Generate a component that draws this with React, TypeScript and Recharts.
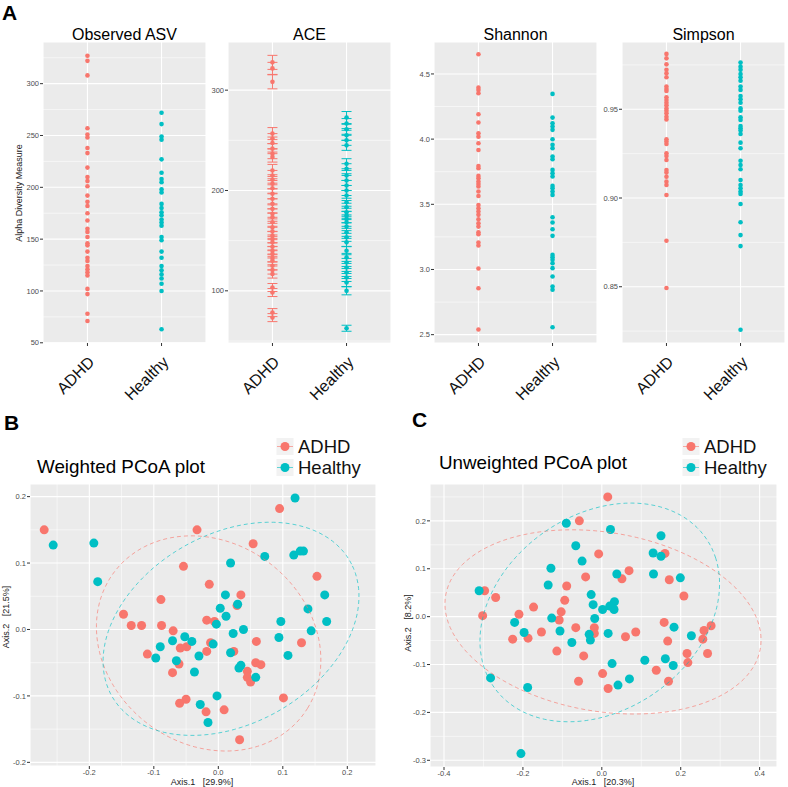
import React from 'react';
import { ScatterChart, Scatter, XAxis, YAxis, CartesianGrid, ReferenceLine, ErrorBar } from 'recharts';

const FONT = '"Liberation Sans", Arial, Helvetica, sans-serif';
const RED = '#F8766D';
const TEAL = '#00BFC4';

// ---------- categories ----------
const groups = ['ADHD', 'Healthy'];

// ---------- Panel A: alpha diversity ----------
const observedAdhd = [327, 322, 308, 257, 251, 248, 238, 233, 219, 210, 206, 201, 192, 186, 182, 175, 168, 160, 157, 152, 146, 144, 138, 132, 129, 124, 121, 118, 115, 102, 97, 78, 71];
const observedHealthy = [272, 261, 249, 246, 227, 214, 208, 205, 198, 195, 184, 180, 176, 173, 169, 166, 163, 152, 149, 138, 132, 124, 120, 116, 112, 107, 100, 63];

const aceAdhd = [327.7, 321.7, 308.3, 256.7, 251.7, 247.3, 241.7, 236.7, 233.3, 220, 215, 210.7, 206.7, 202.3, 196.7, 191.7, 186.7, 181.7, 176.7, 173.3, 168.3, 163.3, 159.3, 155, 151.7, 148.3, 144, 140, 136.7, 132.7, 130, 125, 120.7, 116.7, 103.3, 98.3, 78.3, 73.3];
const aceAdhdSe = [7, 6, 7, 6, 5, 6, 5, 5, 5, 6, 5, 5, 5, 5, 5, 5, 5, 4, 5, 4, 5, 4, 5, 4, 4, 4, 4, 4, 4, 4, 4, 4, 4, 4, 4, 4, 4, 4];
const aceHealthy = [272.7, 266.7, 261, 255, 250, 245, 226.7, 221.7, 215, 210, 205, 200, 195, 188.3, 183.3, 178.3, 175, 171.7, 168.3, 164, 158.3, 153.3, 148.3, 140, 133.3, 128.3, 123.3, 118.3, 113.3, 108.3, 100, 62.7];
const aceHealthySe = [6, 5, 5, 5, 5, 5, 5, 5, 5, 5, 5, 5, 5, 4, 4, 4, 4, 4, 4, 4, 4, 4, 4, 4, 4, 4, 4, 4, 4, 4, 4, 3];

const shannonAdhd = [4.651, 4.395, 4.377, 4.352, 4.191, 4.127, 4.045, 4.019, 3.968, 3.917, 3.794, 3.777, 3.718, 3.7, 3.674, 3.656, 3.636, 3.598, 3.564, 3.495, 3.47, 3.444, 3.419, 3.385, 3.355, 3.329, 3.286, 3.27, 3.207, 3.184, 3.007, 2.856, 2.539];
const shannonHealthy = [4.347, 4.165, 4.122, 4.096, 4.071, 3.999, 3.956, 3.93, 3.866, 3.846, 3.764, 3.738, 3.713, 3.641, 3.623, 3.598, 3.572, 3.401, 3.36, 3.309, 3.258, 3.112, 3.094, 3.074, 3.048, 3.01, 2.946, 2.869, 2.844, 2.557];

const simpsonAdhd = [0.9812, 0.9787, 0.9753, 0.9722, 0.9703, 0.968, 0.9628, 0.9614, 0.9603, 0.9567, 0.9552, 0.9537, 0.9522, 0.9505, 0.9492, 0.9477, 0.9458, 0.9443, 0.9331, 0.9318, 0.9304, 0.9252, 0.9237, 0.9214, 0.9158, 0.9143, 0.912, 0.9092, 0.9073, 0.9017, 0.8759, 0.8493];
const simpsonHealthy = [0.9763, 0.974, 0.9722, 0.9699, 0.968, 0.9661, 0.9628, 0.9609, 0.9575, 0.9556, 0.9537, 0.9505, 0.9492, 0.9455, 0.944, 0.9406, 0.9393, 0.938, 0.9361, 0.9312, 0.928, 0.921, 0.9186, 0.9162, 0.9101, 0.9073, 0.9055, 0.9036, 0.9023, 0.8966, 0.8863, 0.8791, 0.8729, 0.8258];

const observedTicks = [50, 100, 150, 200, 250, 300];
const observedMinor = [75, 125, 175, 225, 275, 325];
const aceTicks = [100, 200, 300];
const aceMinor = [50, 150, 250];
const shannonTicks = [2.5, 3.0, 3.5, 4.0, 4.5];
const shannonMinor = [2.75, 3.25, 3.75, 4.25];
const simpsonTicks = [0.85, 0.9, 0.95];
const simpsonMinor = [0.825, 0.875, 0.925, 0.975];

// ---------- Panel B: weighted PCoA ----------
const weightedAdhd = [[-0.270, 0.150], [-0.033, 0.150], [0.095, 0.182], [0.054, 0.129], [-0.054, 0.095], [-0.014, 0.068], [0.153, 0.080], [-0.089, 0.045], [0.035, 0.052], [0.029, 0.036], [-0.147, 0.023], [-0.135, 0.006], [-0.119, 0.006], [-0.088, 0.006], [-0.018, 0.014], [-0.006, 0.012], [-0.070, -0.002], [-0.012, -0.020], [-0.059, -0.028], [-0.049, -0.026], [-0.018, -0.033], [0.024, -0.033], [0.059, -0.018], [0.129, -0.020], [-0.110, -0.037], [-0.061, -0.052], [-0.071, -0.065], [0.058, -0.050], [0.066, -0.053], [0.045, -0.063], [0.045, -0.072], [0.050, -0.079], [0.101, -0.103], [-0.050, -0.105], [-0.060, -0.111], [-0.019, -0.124], [0.009, -0.121], [0.033, -0.166]];
const weightedHealthy = [[-0.256, 0.127], [-0.193, 0.130], [-0.187, 0.072], [0.119, 0.198], [0.019, 0.100], [0.072, 0.110], [0.117, 0.112], [0.127, 0.118], [0.132, 0.118], [0.011, 0.052], [0.030, 0.038], [0.003, 0.032], [0.012, 0.020], [-0.003, 0.008], [0.165, 0.052], [0.139, 0.031], [0.168, 0.012], [0.097, 0.012], [0.144, -0.002], [0.039, 0.000], [0.023, -0.006], [-0.052, -0.011], [-0.071, -0.017], [-0.041, -0.018], [-0.008, -0.022], [0.094, -0.012], [-0.090, -0.026], [-0.097, -0.043], [-0.065, -0.047], [-0.030, -0.040], [0.019, -0.035], [0.035, -0.054], [0.032, -0.058], [0.108, -0.039], [0.058, -0.072], [-0.037, -0.064], [-0.002, -0.100], [-0.028, -0.113], [-0.016, -0.140]];
const weightedXTicks = [-0.2, -0.1, 0.0, 0.1, 0.2];
const weightedXMinor = [-0.25, -0.15, -0.05, 0.05, 0.15];
const weightedYTicks = [-0.2, -0.1, 0.0, 0.1, 0.2];
const weightedYMinor = [-0.15, -0.05, 0.05, 0.15];
// ellipse: centre, semi-axes, rotation (radians, data space)
const weightedEllipseAdhd = { cx: -0.015, cy: -0.021, a: 0.1818, b: 0.1532, th: -0.567 };
const weightedEllipseHealthy = { cx: 0.0197, cy: 0.001, a: 0.2108, b: 0.1438, th: 0.48 };

// ---------- Panel C: unweighted PCoA ----------
const unweightedAdhd = [[0.015, 0.250], [-0.057, 0.200], [-0.008, 0.131], [0.160, 0.132], [-0.041, 0.083], [0.069, 0.096], [0.051, 0.079], [0.171, 0.077], [-0.089, 0.064], [-0.297, 0.054], [-0.269, 0.040], [-0.094, 0.034], [0.208, 0.043], [-0.173, 0.020], [-0.103, 0.010], [-0.210, 0.005], [-0.302, 0.002], [-0.108, -0.007], [0.158, -0.012], [-0.066, -0.023], [-0.019, -0.023], [0.277, -0.019], [-0.019, -0.035], [-0.153, -0.032], [0.086, -0.032], [0.259, -0.029], [0.060, -0.042], [-0.226, -0.047], [-0.187, -0.045], [0.256, -0.047], [0.167, -0.051], [-0.114, -0.072], [0.216, -0.077], [0.268, -0.077], [-0.046, -0.082], [0.218, -0.096], [0.138, -0.112], [0.002, -0.119], [-0.059, -0.135], [0.169, -0.135], [0.016, -0.150]];
const unweightedHealthy = [[-0.090, 0.195], [0.022, 0.182], [0.150, 0.169], [-0.066, 0.148], [0.130, 0.133], [0.150, 0.126], [-0.050, 0.116], [-0.129, 0.101], [0.038, 0.089], [0.131, 0.089], [0.199, 0.081], [-0.136, 0.066], [-0.311, 0.054], [-0.027, 0.046], [-0.022, 0.025], [0.032, 0.031], [0.020, 0.022], [0.031, 0.015], [0.002, 0.015], [-0.127, -0.003], [-0.018, -0.004], [-0.221, -0.012], [0.183, -0.022], [-0.197, -0.033], [-0.106, -0.030], [-0.032, -0.037], [0.016, -0.035], [0.227, -0.040], [-0.029, -0.049], [-0.076, -0.054], [0.161, -0.088], [0.109, -0.091], [0.026, -0.098], [0.181, -0.102], [-0.282, -0.128], [0.070, -0.130], [0.041, -0.143], [-0.188, -0.148], [-0.205, -0.286]];
const unweightedXTicks = [-0.4, -0.2, 0.0, 0.2, 0.4];
const unweightedXMinor = [-0.3, -0.1, 0.1, 0.3];
const unweightedYTicks = [-0.3, -0.2, -0.1, 0.0, 0.1, 0.2];
const unweightedYMinor = [-0.25, -0.15, -0.05, 0.05, 0.15, 0.25];
const unweightedEllipseAdhd = { cx: 0.003, cy: -0.011, a: 0.4029, b: 0.1876, th: -0.12 };
const unweightedEllipseHealthy = { cx: -0.0052, cy: 0.0088, a: 0.315, b: 0.2125, th: 0.368 };

// ---------- helpers ----------
type Ell = { cx: number; cy: number; a: number; b: number; th: number };
const ellipsePath = (e: Ell) => {
  const pts: { x: number; y: number }[] = [];
  for (let i = 0; i <= 120; i++) {
    const t = (2 * Math.PI * i) / 120;
    pts.push({
      x: e.cx + e.a * Math.cos(e.th) * Math.cos(t) - e.b * Math.sin(e.th) * Math.sin(t),
      y: e.cy + e.a * Math.sin(e.th) * Math.cos(t) + e.b * Math.cos(e.th) * Math.sin(t),
    });
  }
  return pts;
};

const dot = (r: number) => (props: any) =>
  props.cx == null ? <g /> : <circle cx={props.cx} cy={props.cy} r={r} fill={props.fill} />;
const noShape = () => <g />;

const GroupTick = (props: any) => {
  const { x, y, payload } = props;
  return (
    <text
      transform={`translate(${x + 8},${y + 15}) rotate(-45)`}
      textAnchor="end"
      fontSize={16}
      fontFamily={FONT}
      fill="#111"
    >
      {groups[payload.value - 1]}
    </text>
  );
};

type AlphaProps = {
  left: number;
  yAxisW: number;
  plotW: number;
  adhd: number[];
  healthy: number[];
  adhdSe?: number[];
  healthySe?: number[];
  domain: [number, number];
  ticks: number[];
  minor: number[];
  fmt: (v: number) => string;
};

function AlphaPanel(p: AlphaProps) {
  const rowsA = p.adhd.map((v, i) => ({ x: 1, y: v, e: p.adhdSe ? p.adhdSe[i] : 0 }));
  const rowsH = p.healthy.map((v, i) => ({ x: 2, y: v, e: p.healthySe ? p.healthySe[i] : 0 }));
  return (
    <div style={{ position: 'absolute', left: p.left, top: 0 }}>
      <ScatterChart width={p.yAxisW + p.plotW} height={430} margin={{ top: 42, right: 0, bottom: 0, left: 0 }}>
        <CartesianGrid fill="#EBEBEB" stroke="#FFFFFF" strokeWidth={1.1} />
        {p.minor.map((v) => (
          <ReferenceLine key={'m' + v} y={v} stroke="#FFFFFF" strokeWidth={0.55} />
        ))}
        <XAxis
          type="number"
          dataKey="x"
          domain={[0.4, 2.6]}
          ticks={[1, 2]}
          allowDataOverflow
          axisLine={false}
          tickLine={{ stroke: '#333333' }}
          tickSize={3}
          height={87}
          interval={0}
          tick={<GroupTick />}
        />
        <YAxis
          type="number"
          dataKey="y"
          domain={p.domain}
          ticks={p.ticks}
          allowDataOverflow
          axisLine={false}
          tickLine={{ stroke: '#333333' }}
          tickSize={3}
          tickMargin={1}
          width={p.yAxisW}
          interval={0}
          tickFormatter={p.fmt}
          tick={{ fontSize: 7.5, fill: '#4D4D4D', fontFamily: FONT }}
        />
        <Scatter data={rowsA} fill={RED} shape={dot(2.3)} isAnimationActive={false}>
          {p.adhdSe ? <ErrorBar dataKey="e" direction="y" width={5} stroke={RED} strokeWidth={1} /> : null}
        </Scatter>
        <Scatter data={rowsH} fill={TEAL} shape={dot(2.3)} isAnimationActive={false}>
          {p.healthySe ? <ErrorBar dataKey="e" direction="y" width={5} stroke={TEAL} strokeWidth={1} /> : null}
        </Scatter>
      </ScatterChart>
    </div>
  );
}

type PcoaProps = {
  left: number;
  top: number;
  yAxisW: number;
  plotW: number;
  plotTop: number;
  plotH: number;
  xDomain: [number, number];
  yDomain: [number, number];
  xTicks: number[];
  yTicks: number[];
  xMinor: number[];
  yMinor: number[];
  adhd: number[][];
  healthy: number[][];
  ellA: Ell;
  ellH: Ell;
};

function PcoaPanel(p: PcoaProps) {
  const rowsA = p.adhd.map(([x, y]) => ({ x, y }));
  const rowsH = p.healthy.map(([x, y]) => ({ x, y }));
  const fmt = (v: number) => v.toFixed(1);
  return (
    <div style={{ position: 'absolute', left: p.left, top: p.top }}>
      <ScatterChart
        width={p.yAxisW + p.plotW}
        height={p.plotTop + p.plotH + 20}
        margin={{ top: p.plotTop, right: 0, bottom: 0, left: 0 }}
      >
        <CartesianGrid fill="#EBEBEB" stroke="#FFFFFF" strokeWidth={1.1} />
        {p.xMinor.map((v) => (
          <ReferenceLine key={'mx' + v} x={v} stroke="#FFFFFF" strokeWidth={0.55} />
        ))}
        {p.yMinor.map((v) => (
          <ReferenceLine key={'my' + v} y={v} stroke="#FFFFFF" strokeWidth={0.55} />
        ))}
        <XAxis
          type="number"
          dataKey="x"
          domain={p.xDomain}
          ticks={p.xTicks}
          allowDataOverflow
          axisLine={false}
          tickLine={{ stroke: '#333333' }}
          tickSize={3}
          tickMargin={1}
          height={20}
          interval={0}
          tickFormatter={fmt}
          tick={{ fontSize: 7.5, fill: '#4D4D4D', fontFamily: FONT }}
        />
        <YAxis
          type="number"
          dataKey="y"
          domain={p.yDomain}
          ticks={p.yTicks}
          allowDataOverflow
          axisLine={false}
          tickLine={{ stroke: '#333333' }}
          tickSize={3}
          tickMargin={1}
          width={p.yAxisW}
          interval={0}
          tickFormatter={fmt}
          tick={{ fontSize: 7.5, fill: '#4D4D4D', fontFamily: FONT }}
        />
        <Scatter data={rowsA} fill={RED} shape={dot(4.5)} isAnimationActive={false} />
        <Scatter data={rowsH} fill={TEAL} shape={dot(4.5)} isAnimationActive={false} />
        <Scatter
          data={ellipsePath(p.ellA)}
          fill={RED}
          shape={noShape}
          line={{ stroke: RED, strokeWidth: 0.9, strokeDasharray: '4 3', strokeOpacity: 0.7 }}
          lineType="joint"
          isAnimationActive={false}
        />
        <Scatter
          data={ellipsePath(p.ellH)}
          fill={TEAL}
          shape={noShape}
          line={{ stroke: TEAL, strokeWidth: 0.9, strokeDasharray: '4 3', strokeOpacity: 0.7 }}
          lineType="joint"
          isAnimationActive={false}
        />
      </ScatterChart>
    </div>
  );
}

function LegendBox({ x, y }: { x: number; y: number }) {
  const items = [
    { label: groups[0], color: RED, dy: 0 },
    { label: groups[1], color: TEAL, dy: 21 },
  ];
  return (
    <g>
      {items.map((it) => (
        <g key={it.label}>
          <rect x={x - 8.5} y={y + it.dy - 8.5} width={17} height={17} fill="#F2F2F2" />
          <line x1={x - 8} x2={x + 8} y1={y + it.dy} y2={y + it.dy} stroke={it.color} strokeOpacity={0.6} strokeWidth={1} />
          <circle cx={x} cy={y + it.dy} r={4.5} fill={it.color} />
          <text x={x + 13} y={y + it.dy + 6.5} fontSize={18.5} fontFamily={FONT} fill="#111">
            {it.label}
          </text>
        </g>
      ))}
    </g>
  );
}

export default function App() {
  return (
    <div style={{ position: 'absolute', left: 0, top: 0, width: 788, height: 787, background: '#fff', fontFamily: FONT }}>
      <AlphaPanel left={3} yAxisW={40} plotW={163} adhd={observedAdhd} healthy={observedHealthy}
        domain={[49.8, 340.2]} ticks={observedTicks} minor={observedMinor} fmt={(v) => String(v)} />
      <AlphaPanel left={206} yAxisW={22} plotW={163} adhd={aceAdhd} healthy={aceHealthy}
        adhdSe={aceAdhdSe} healthySe={aceHealthySe}
        domain={[48, 348]} ticks={aceTicks} minor={aceMinor} fmt={(v) => String(v)} />
      <AlphaPanel left={409} yAxisW={25} plotW={163} adhd={shannonAdhd} healthy={shannonHealthy}
        domain={[2.436, 4.745]} ticks={shannonTicks} minor={shannonMinor} fmt={(v) => v.toFixed(1)} />
      <AlphaPanel left={597} yAxisW={25} plotW={163} adhd={simpsonAdhd} healthy={simpsonHealthy}
        domain={[0.8183, 0.9879]} ticks={simpsonTicks} minor={simpsonMinor} fmt={(v) => v.toFixed(2)} />

      <PcoaPanel left={0} top={430} yAxisW={30} plotW={346} plotTop={54} plotH={282}
        xDomain={[-0.292, 0.2445]} yDomain={[-0.2055, 0.219]}
        xTicks={weightedXTicks} yTicks={weightedYTicks} xMinor={weightedXMinor} yMinor={weightedYMinor}
        adhd={weightedAdhd} healthy={weightedHealthy} ellA={weightedEllipseAdhd} ellH={weightedEllipseHealthy} />
      <PcoaPanel left={390} top={430} yAxisW={40} plotW={347} plotTop={54} plotH={283}
        xDomain={[-0.4355, 0.444]} yDomain={[-0.314, 0.277]}
        xTicks={unweightedXTicks} yTicks={unweightedYTicks} xMinor={unweightedXMinor} yMinor={unweightedYMinor}
        adhd={unweightedAdhd} healthy={unweightedHealthy} ellA={unweightedEllipseAdhd} ellH={unweightedEllipseHealthy} />

      <svg width={788} height={787} style={{ position: 'absolute', left: 0, top: 0, pointerEvents: 'none' }}>
        <g fontFamily={FONT}>
          <text x={2} y={20} fontSize={21} fontWeight="bold" fill="#000">A</text>
          <text x={124.5} y={39.5} fontSize={16} textAnchor="middle" fill="#000">Observed ASV</text>
          <text x={309.5} y={39.5} fontSize={16} textAnchor="middle" fill="#000">ACE</text>
          <text x={515.5} y={39.5} fontSize={16} textAnchor="middle" fill="#000">Shannon</text>
          <text x={703.5} y={39.5} fontSize={16} textAnchor="middle" fill="#000">Simpson</text>
          <text transform="translate(22,193) rotate(-90)" fontSize={9} textAnchor="middle" fill="#222">Alpha Diversity Measure</text>

          <text x={4} y={430} fontSize={21} fontWeight="bold" fill="#000">B</text>
          <text x={412} y={427} fontSize={21} fontWeight="bold" fill="#000">C</text>

          <text x={37} y={473} fontSize={19} fill="#000" textLength={168} lengthAdjust="spacingAndGlyphs">Weighted PCoA plot</text>
          <text x={439} y={469} fontSize={19} fill="#000" textLength={188} lengthAdjust="spacingAndGlyphs">Unweighted PCoA plot</text>

          <LegendBox x={285} y={446.5} />
          <LegendBox x={691} y={446.5} />

          <text x={202} y={785} fontSize={9} textAnchor="middle" fill="#222" xmlSpace="preserve">Axis.1   [29.9%]</text>
          <text transform="translate(9,617) rotate(-90)" fontSize={9} textAnchor="middle" fill="#222" xmlSpace="preserve">Axis.2   [21.5%]</text>
          <text x={603} y={785} fontSize={9} textAnchor="middle" fill="#222" xmlSpace="preserve">Axis.1   [20.3%]</text>
          <text transform="translate(411,623) rotate(-90)" fontSize={9} textAnchor="middle" fill="#222" xmlSpace="preserve">Axis.2   [8.2%]</text>
        </g>
      </svg>
    </div>
  );
}
